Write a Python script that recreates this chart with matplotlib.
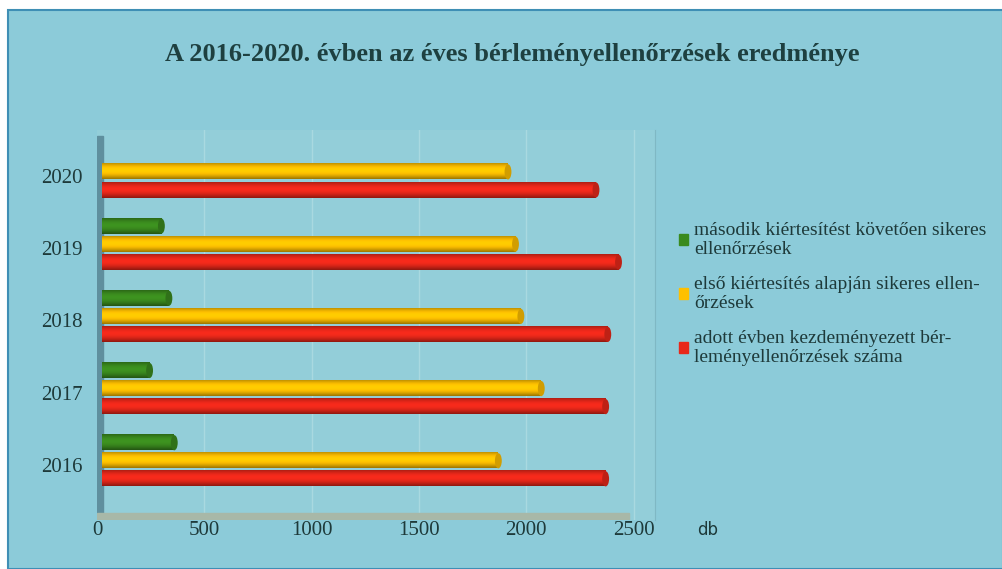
import matplotlib.pyplot as plt
import matplotlib.patches as mpatches
from matplotlib.colors import to_rgb
from matplotlib.transforms import ScaledTranslation
import numpy as np

# évek és a három adatsor (db)
evek = ["2016", "2017", "2018", "2019", "2020"]
masodik = [360, 245, 335, 300, 0]
elso = [1870, 2070, 1975, 1950, 1915]
adott = [2370, 2370, 2380, 2430, 2325]

cimkek = ["második kiértesítést követően sikeres\nellenőrzések",
          "első kiértesítés alapján sikeres ellen-\nőrzések",
          "adott évben kezdeményezett bér-\nleményellenőrzések száma"]
szinek = ["#3a8a1e", "#ffc000", "#e8281a"]
cim = "A 2016-2020. évben az éves bérleményellenőrzések eredménye"

hatter = "#8ccbd9"
serif = ["Liberation Serif", "DejaVu Serif"]

fig = plt.figure(figsize=(10.03, 5.69), dpi=100)
fig.patch.set_facecolor("white")

# keret és háttér
keret = mpatches.Rectangle((8 / 1003, 0), 1 - 8 / 1003, 1 - 10 / 569,
                           transform=fig.transFigure, facecolor=hatter,
                           edgecolor="#3f8fb5", linewidth=1.5, zorder=-5)
fig.patches.append(keret)

ax = fig.add_axes([97 / 1003, 1 - 520 / 569, 558 / 1003, 390 / 569])
ax.set_facecolor("#93ced9")

# függőleges rácsvonalak
for v in range(500, 2600, 500):
    ax.axvline(v, color="#a9d9e0", lw=1, zorder=0)

# bal oldali fal és padló
ax.add_patch(mpatches.Rectangle((0, -0.9), 30, 5.4, color="#5f8f9e", zorder=1))
ax.add_patch(mpatches.Rectangle((0, -0.82), 2480, 0.1, color="#a8b8a8", zorder=1))

y = np.arange(len(evek))
eltolas = [0.25, 0, -0.25]
vastag = 0.21
sorok = [masodik, elso, adott]


def henger(ax, x0, yc, hossz, h, szin):
    # hengeres hatás: függőleges színátmenet a sáv mentén
    if hossz <= 0:
        return
    c = np.array(to_rgb(szin))
    t = np.linspace(0, 1, 32)
    arny = 0.62 + 0.45 * np.sin(np.pi * (0.1 + 0.9 * t))
    kep = np.clip(c[None, None, :] * arny[:, None, None], 0, 1)
    ax.imshow(kep, extent=(x0, x0 + hossz, yc - h / 2, yc + h / 2),
              aspect="auto", origin="upper", zorder=3,
              interpolation="bilinear")
    # lekerekített vég
    ax.add_patch(mpatches.Ellipse((x0 + hossz, yc), 32, h, facecolor=c * 0.82,
                                  edgecolor="none", zorder=4))


for sor, off, szin in zip(sorok, eltolas, szinek):
    for i, v in enumerate(sor):
        henger(ax, 25, y[i] + off, v - 25, vastag, szin)

ax.set_xlim(0, 2600)
ax.set_ylim(-0.82, 4.58)

ax.set_yticks(y)
ax.set_yticklabels(evek, fontfamily=serif, fontsize=15, color="#1e3a3a")
ax.set_xticks(range(0, 2501, 500))
ax.set_xticklabels([str(v) for v in range(0, 2501, 500)],
                   fontfamily=serif, fontsize=15, color="#1e3a3a")
ax.tick_params(axis="y", length=0, pad=10)
ax.tick_params(axis="x", length=0, pad=1)
# évszámok kicsit lejjebb
for lbl in ax.get_yticklabels():
    lbl.set_transform(lbl.get_transform() +
                      ScaledTranslation(0, -4 / 100, fig.dpi_scale_trans))
for s in ax.spines.values():
    s.set_visible(False)
ax.spines["right"].set_visible(True)
ax.spines["right"].set_color("#7fb8c4")

fig.text(697 / 1003, 1 - 530 / 569, "db", fontsize=12, color="#1e3a3a",
         ha="left", va="center")

fig.text(512 / 1003, 1 - 55 / 569, cim, fontfamily=serif, fontsize=19,
         fontweight="bold", color="#1e4040", ha="center", va="center")

kezelok = [mpatches.Patch(color=c) for c in szinek]
leg = fig.legend(kezelok, cimkek, loc="upper left",
                 bbox_to_anchor=(661 / 1003, 1 - 204 / 569), frameon=False,
                 prop={"family": serif, "size": 14}, labelcolor="#1e3a3a",
                 handlelength=0.5, handleheight=0.5, handletextpad=0.3,
                 labelspacing=0.9)

fig.savefig("out.png", dpi=100, facecolor=fig.get_facecolor())
